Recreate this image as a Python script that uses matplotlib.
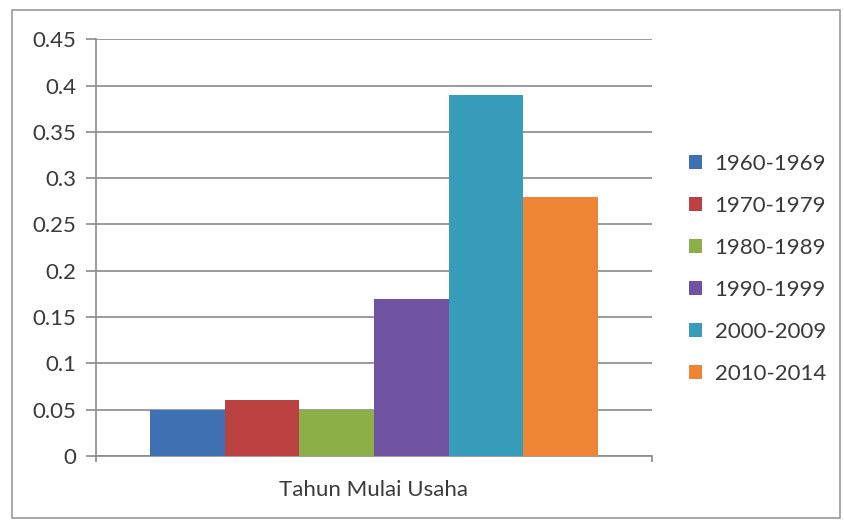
import matplotlib.pyplot as plt
from matplotlib.patches import Rectangle
import numpy as np

categories = ["Tahun Mulai Usaha"]
series = ["1960-1969", "1970-1979", "1980-1989", "1990-1999", "2000-2009", "2010-2014"]
values = [0.05, 0.06, 0.05, 0.17, 0.39, 0.28]
colors = ["#3E70B2", "#BC4242", "#8DAF48", "#7053A0", "#379DBA", "#EE8535"]
yticks = [0, 0.05, 0.1, 0.15, 0.2, 0.25, 0.3, 0.35, 0.4, 0.45]
ytick_labels = ["0", "0.05", "0.1", "0.15", "0.2", "0.25", "0.3", "0.35", "0.4", "0.45"]

plt.rcParams['font.family'] = ['Lato', 'DejaVu Sans']
FS = 16
TXT = "#3a3a3a"

W, H = 845, 522
fig = plt.figure(figsize=(W / 100, H / 100), dpi=100)
fig.patch.set_facecolor("white")

# outer chart border
fig.patches.append(Rectangle((12 / W, 1 - 518 / H), (840 - 12) / W, (518 - 10) / H,
                             transform=fig.transFigure, fill=False,
                             edgecolor="#9a9a9a", linewidth=1.2))

left, right, top, bottom = 96, 652, 39.3, 456
ax = fig.add_axes([left / W, 1 - bottom / H, (right - left) / W, (bottom - top) / H])

n = len(series)
bar_w = 0.134
offsets = (np.arange(n) - (n - 1) / 2) * bar_w
for i, (s, v, c) in enumerate(zip(series, values, colors)):
    ax.bar(0 + offsets[i], v, width=bar_w, color=c, label=s, zorder=3)

ax.set_xlim(-0.5, 0.5)
ax.set_ylim(0, 0.45)
ax.set_yticks(yticks)
ax.set_yticklabels(ytick_labels, fontsize=FS, color=TXT)
ax.set_xticks([0])
ax.set_xticklabels(categories, fontsize=FS, color=TXT)
ax.xaxis.set_tick_params(length=0, pad=17)
ax.set_xticks([-0.5, 0.5], minor=True)
ax.tick_params(axis="x", which="minor", length=4.5, color="#8a8a8a", width=1.2)
ax.tick_params(axis="y", length=7, color="#8a8a8a", width=1.2, pad=7)

ax.grid(axis="y", color="#8a8a8a", linewidth=1.2, zorder=0)
for sp in ["top", "right"]:
    ax.spines[sp].set_visible(False)
ax.spines["left"].set_color("#8a8a8a")
ax.spines["bottom"].set_color("#8a8a8a")
ax.spines["left"].set_linewidth(1.2)
ax.spines["bottom"].set_linewidth(1.2)

leg = fig.legend(loc="upper left", bbox_to_anchor=(669 / W, 1 - 134 / H),
                 frameon=False, fontsize=FS, handlelength=0.6, handleheight=0.6,
                 handletextpad=0.55, labelspacing=0.99, labelcolor=TXT)

fig.savefig("out.png", dpi=100)
